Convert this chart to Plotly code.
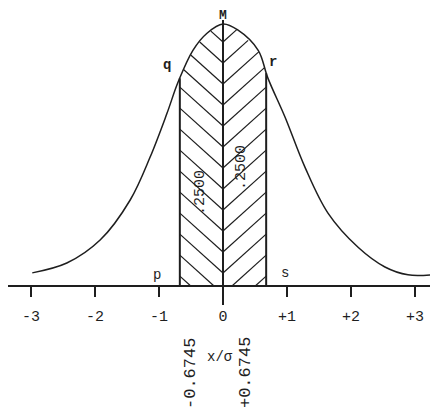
import numpy as np
import plotly.graph_objects as go

# ---- data ----
curve_x = [-2.98, -2.44, -1.92, -1.45, -1.14, -0.875, -0.70, -0.47, -0.25, 0.0,
           0.23, 0.55, 0.70, 0.97, 1.28, 1.64, 2.11, 2.53, 2.89, 3.25]
curve_y = [0.020, 0.035, 0.070, 0.131, 0.196, 0.263, 0.311, 0.359, 0.385, 0.399,
           0.390, 0.359, 0.317, 0.257, 0.181, 0.111, 0.059, 0.029, 0.017, 0.017]
q_limit = 0.6745
tick_vals = [-3, -2, -1, 0, 1, 2, 3]
tick_text = ["-3", "-2", "-1", "0", "+1", "+2", "+3"]
area_label = ".2500"
limit_labels = ["-0.6745", "+0.6745"]

# ---- geometry (page has an 8px body margin) ----
OFF = 8
W, H = 438 - OFF, 413 - OFF
x_range = [-3.359, 3.359]
y_range = [-0.1934, 0.4234]
px_x = W / (x_range[1] - x_range[0])
px_y = H / (y_range[1] - y_range[0])
INK = "#1e1e1e"
FONT = "Liberation Mono"

cx = np.array(curve_x)
cy = np.array(curve_y)
def curve_at(x):
    return np.interp(x, cx, cy)

fig = go.Figure()

# hatching (herringbone) inside the central area
hx, hy = [], []
slope = 0.9
spacing = 21
for k in range(-3, 14):
    yc = 13 + spacing * k
    for side in (-1, 1):
        xs = np.linspace(0, side * q_limit, 400)
        ys = (yc + slope * np.abs(xs) * px_x) / px_y
        ok = (ys >= 0) & (ys <= curve_at(xs))
        idx = np.where(ok)[0]
        if len(idx) < 2:
            continue
        hx += [xs[idx[0]], xs[idx[-1]], None]
        hy += [ys[idx[0]], ys[idx[-1]], None]
fig.add_trace(go.Scatter(x=hx, y=hy, mode="lines",
                         line=dict(color=INK, width=1.2), hoverinfo="skip"))

# curve
fig.add_trace(go.Scatter(x=curve_x, y=curve_y, mode="lines",
                         line=dict(color=INK, width=1.5, shape="spline", smoothing=1.0),
                         hoverinfo="skip"))

# verticals at +-0.6745
for xv in (-q_limit, q_limit):
    fig.add_trace(go.Scatter(x=[xv, xv], y=[0, float(curve_at(xv))], mode="lines",
                             line=dict(color=INK, width=2), hoverinfo="skip"))
# central ordinate (extends a little below the axis)
peak = max(curve_y)
fig.add_trace(go.Scatter(x=[0, 0], y=[-19 / px_y, peak + 4 / px_y], mode="lines",
                         line=dict(color=INK, width=2), hoverinfo="skip"))

# base line
fig.add_shape(type="line", x0=x_range[0], x1=x_range[1], y0=0, y1=0,
              line=dict(color=INK, width=2))

anns = []
def ann(x, y, text, size=14, angle=0, pad=1):
    anns.append(dict(x=x, y=y, text=text, showarrow=False, textangle=angle,
                     font=dict(family=FONT, size=size, color=INK), borderpad=pad,
                     xanchor="center", yanchor="middle"))

ann(0, peak + 9 / px_y, "<b>M</b>", 13, pad=0)
ann(-0.875, 0.3366, "<b>q</b>", 14)
ann(0.78, 0.341, "<b>r</b>", 14)
ann(-1.03, 0.0168, "p", 14)
ann(0.97, 0.0198, "s", 14)
ann(-0.36, 0.143, area_label, 15, -90)
ann(0.30, 0.180, area_label, 15, -90)
ann(-0.516, -0.1325, limit_labels[0], 17, -90)
ann(0.344, -0.1325, limit_labels[1], 17, -90)
ann(-0.047, -0.108, "x/σ", 14)

fig.update_layout(
    width=W, height=H,
    margin=dict(l=0, r=0, t=0, b=0),
    paper_bgcolor="white", plot_bgcolor="white",
    showlegend=False,
    annotations=anns,
    xaxis=dict(range=x_range, showgrid=False, zeroline=False, showline=False,
               tickmode="array", tickvals=tick_vals, ticktext=tick_text,
               ticks="outside", ticklen=10, tickwidth=2, tickcolor=INK,
               ticklabelstandoff=6,
               tickfont=dict(family=FONT, size=15, color=INK),
               anchor="free", position=(0 - y_range[0]) / (y_range[1] - y_range[0])),
    yaxis=dict(range=y_range, visible=False, showgrid=False, zeroline=False),
)

fig.write_html("out.html")
